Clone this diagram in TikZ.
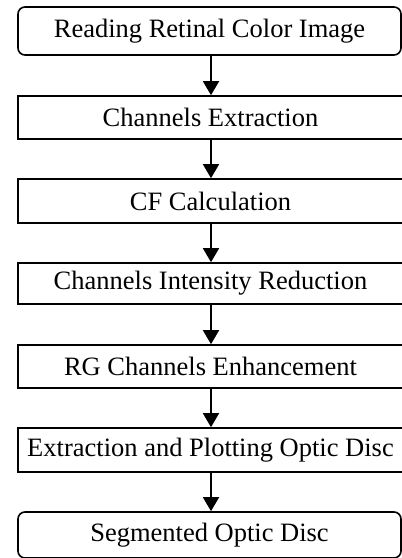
\documentclass[tikz,border=0pt]{standalone}
\usepackage{fontspec}
\setmainfont{Liberation Serif}
\usetikzlibrary{arrows.meta}
\begin{document}
\begin{tikzpicture}[x=1pt,y=-1pt,
  box/.style={draw=black,line width=1.6pt,fill=white,minimum width=385pt,inner sep=0pt,font=\fontsize{26.5}{30}\selectfont},
  rbox/.style={box,rounded corners=7pt,minimum width=383pt},
  arr/.style={line width=1.6pt,-{Triangle[length=14pt,width=16pt]}}]
\useasboundingbox (0,0) rectangle (402,558);
\node[rbox,minimum height=48pt] (n1) at (209.5,31) {Reading Retinal Color Image};
\node[box,minimum height=43pt] (n2) at (210.5,117.5) {Channels Extraction};
\node[box,minimum height=44pt] (n3) at (210.5,201) {CF Calculation};
\node[box,minimum height=41pt] (n4) at (210.5,283.5) {Channels Intensity Reduction};
\node[box,minimum height=43pt] (n5) at (210.5,366.5) {RG Channels Enhancement};
\node[box,minimum height=44pt] (n6) at (210.5,450) {Extraction and Plotting Optic Disc};
\node[rbox,minimum height=46pt] (n7) at (209.5,535) {Segmented Optic Disc};
\foreach \a/\b in {n1/n2,n2/n3,n3/n4,n4/n5,n5/n6,n6/n7}
  \draw[arr] (\a.south -| 211,0) -- (\b.north -| 211,0);
\end{tikzpicture}
\end{document}
